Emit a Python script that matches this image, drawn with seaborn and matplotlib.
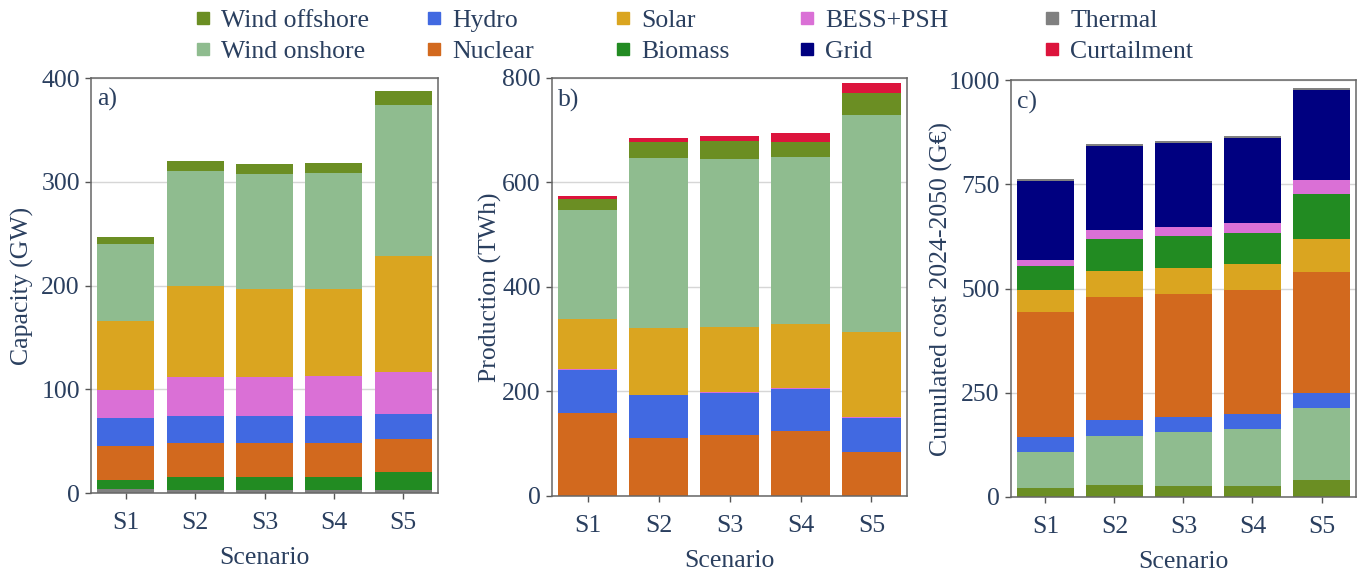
import matplotlib
matplotlib.use('Agg')
import matplotlib.pyplot as plt
from matplotlib.lines import Line2D
import seaborn as sns
import numpy as np

#Scenarios
scenarios=['S1','S2','S3','S4','S5']

#a) installed capacity (GW), per technology
cap_thermal=[3.5,2.6,2.6,2.6,2.6]
cap_biomass=[8.7,12.5,12.5,12.5,17.3]
cap_nuclear=[33.1,32.8,32.8,32.8,31.8]
cap_hydro=[27.0,26.0,26.0,26.0,24.1]
cap_bess=[27.3,37.6,37.6,38.9,40.5]
cap_solar=[65.9,88.0,84.8,83.5,112.2]
cap_onshore=[74.2,110.6,110.9,111.9,145.2]
cap_offshore=[6.8,9.6,9.6,9.6,13.5]

#b) production (TWh)
prod_nuclear=[159,111,116,124,84]
prod_hydro=[82,82,81,80,65]
prod_bess=[2,1,2.5,2.5,2]
prod_solar=[96,128,124,123,163]
prod_onshore=[209,325,322,319,416]
prod_offshore=[21,31,33,29,41.5]
prod_curtail=[6,7,11,17,18]

#c) cumulated cost 2024-2050 (G€)
cost_offshore=[21.6,28.0,25.6,25.6,40.0]
cost_onshore=[86.4,117.6,129.6,136.8,172.8]
cost_hydro=[35.2,39.2,36.0,36.8,36.0]
cost_nuclear=[300.0,294.4,295.2,296.8,290.4]
cost_solar=[52.8,62.4,62.4,62.4,79.2]
cost_biomass=[57.6,76.8,76.8,74.4,108.0]
cost_bess=[14.4,21.6,21.6,24.0,33.6]
cost_grid=[189.6,201.6,201.6,204.0,216.0]
cost_thermal=[4.8,4.8,4.8,4.8,4.8]

colors={'Wind offshore':'olivedrab','Wind onshore':'darkseagreen','Hydro':'royalblue',
        'Nuclear':'chocolate','Solar':'goldenrod','Biomass':'forestgreen',
        'BESS+PSH':'orchid','Grid':'navy','Thermal':'gray','Curtailment':'crimson'}

#stacks, bottom to top
capStack=[('Thermal',cap_thermal),('Biomass',cap_biomass),('Nuclear',cap_nuclear),('Hydro',cap_hydro),
          ('BESS+PSH',cap_bess),('Solar',cap_solar),('Wind onshore',cap_onshore),('Wind offshore',cap_offshore)]
prodStack=[('Nuclear',prod_nuclear),('Hydro',prod_hydro),('BESS+PSH',prod_bess),('Solar',prod_solar),
           ('Wind onshore',prod_onshore),('Wind offshore',prod_offshore),('Curtailment',prod_curtail)]
costStack=[('Wind offshore',cost_offshore),('Wind onshore',cost_onshore),('Hydro',cost_hydro),('Nuclear',cost_nuclear),
           ('Solar',cost_solar),('Biomass',cost_biomass),('BESS+PSH',cost_bess),('Grid',cost_grid),('Thermal',cost_thermal)]

txtColor='#2a3f5f'
sns.set_style('white')
plt.rcParams['font.family']=['Liberation Serif','DejaVu Serif']
plt.rcParams['font.size']=18.5
plt.rcParams['text.color']=txtColor
plt.rcParams['axes.labelcolor']=txtColor
plt.rcParams['xtick.labelcolor']=txtColor
plt.rcParams['ytick.labelcolor']=txtColor

fig=plt.figure(figsize=(13.59,5.75),dpi=100)

#stack, axes rect, ymax, yticks, ylabel, ylabel x (axes fraction), tag
panels=[(capStack,[0.067,0.1426,0.2553,0.7217],400,[0,100,200,300,400],'Capacity (GW)',-0.164,'a)'),
        (prodStack,[0.4062,0.1374,0.2612,0.727],800,[0,200,400,600,800],'Production (TWh)',-0.141,'b)'),
        (costStack,[0.7439,0.1357,0.2539,0.725],1000,[0,250,500,750,1000],'Cumulated cost 2024-2050 (G€)',-0.168,'c)')]

for stack,rect,ymax,yticks,ylabel,labx,tag in panels:
    ax=fig.add_axes(rect)
    cum=np.cumsum([v for _,v in stack],axis=0)
    #draw from top layer down so each bar hides the one under it
    for i in range(len(stack)-1,-1,-1):
        sns.barplot(x=scenarios,y=cum[i],color=colors[stack[i][0]],saturation=1,width=0.82,
                    linewidth=0,edgecolor='none',ax=ax,zorder=2)
    ax.set_xlim(-0.5,4.5)
    ax.set_ylim(0,ymax)
    ax.set_yticks(yticks)
    ax.yaxis.grid(True,color='#d6d6d6',linewidth=1,zorder=0)
    ax.set_axisbelow(True)
    for sp in ax.spines.values():
        sp.set_color('#666666')
        sp.set_linewidth(1.1)
    ax.tick_params(axis='both',direction='out',length=4,width=1,color='#555555',labelsize=18.5,pad=4,
                   bottom=True,left=True)
    ax.tick_params(axis='x',pad=10)
    ax.set_xlabel('Scenario',fontsize=18.5,labelpad=9)
    ax.set_ylabel(ylabel,fontsize=18.5)
    ax.yaxis.set_label_coords(labx,0.5)
    ax.text(0.018,0.975,tag,transform=ax.transAxes,ha='left',va='top',fontsize=18.5)

#legend, five columns of two rows
legCols=[(197,['Wind offshore','Wind onshore']),(428,['Hydro','Nuclear']),(617,['Solar','Biomass']),
         (801,['BESS+PSH','Grid']),(1046,['Thermal','Curtailment'])]
for x0,names in legCols:
    handles=[Line2D([],[],marker='s',linestyle='',markersize=8.5,color=colors[n]) for n in names]
    fig.legend(handles=handles,labels=names,loc='center left',bbox_to_anchor=(x0/1359,1-36/575),
               frameon=False,handlelength=0.5,handletextpad=0.45,borderpad=0,borderaxespad=0,
               labelspacing=0.32,fontsize=18.5)

fig.savefig('out.png',dpi=100)
